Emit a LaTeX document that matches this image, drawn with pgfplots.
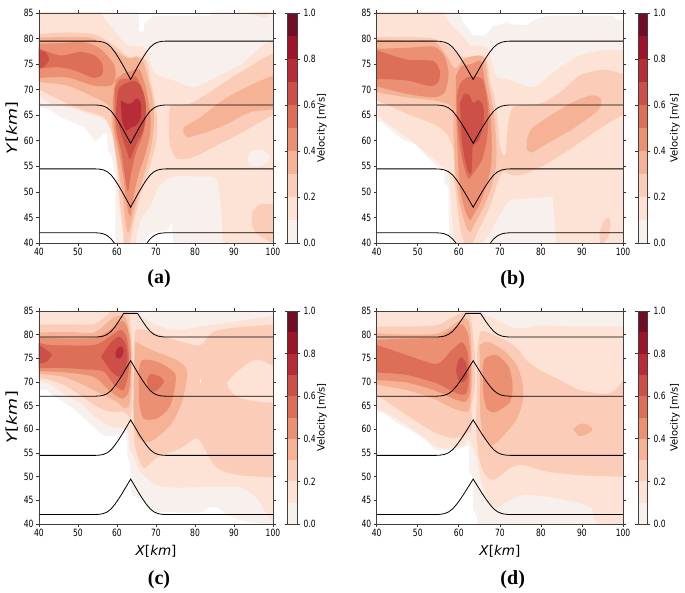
\documentclass[border=0pt]{standalone}
\usepackage{pgfplots}
\usepackage{pgfplotstable}
\usepackage{fontspec}
\pgfplotsset{compat=1.18}
\setmainfont{DejaVu Sans}
\newfontfamily\tickf[FakeStretch=0.76]{DejaVu Sans}
\newfontfamily\labxf{DejaVu Sans}
\newfontfamily\labyf[FakeStretch=1.25]{DejaVu Sans}
\newfontfamily\capf{Liberation Serif}
\definecolor{c0}{HTML}{F8F0EC}
\definecolor{c1}{HTML}{FDE3D6}
\definecolor{c2}{HTML}{FBCDB8}
\definecolor{c3}{HTML}{F5B295}
\definecolor{c4}{HTML}{EC9073}
\definecolor{c5}{HTML}{DD6F59}
\definecolor{c6}{HTML}{CC4F48}
\definecolor{c7}{HTML}{B82C37}
\definecolor{c8}{HTML}{9D1428}
\definecolor{c9}{HTML}{710B26}
\pgfplotstableread{
x y1 y2 y3 y4
40 79.5 67 54.5 42
54.5 79.5 67 54.5 42
55.5 79.45 66.95 54.45 41.95
56.5 79.3 66.8 54.3 41.8
57.5 78.95 66.45 53.95 41.45
58.5 78.3 65.8 53.3 40.8
59.5 77.3 64.8 52.3 39.8
60.5 76.1 63.6 51.1 38.6
61.5 74.8 62.3 49.8 37.3
62.5 73.4 60.9 48.4 35.9
63.5 72 59.5 47 34.5
64.5 73.4 60.9 48.4 35.9
65.5 74.8 62.3 49.8 37.3
66.5 76.1 63.6 51.1 38.6
67.5 77.3 64.8 52.3 39.8
68.5 78.3 65.8 53.3 40.8
69.5 78.95 66.45 53.95 41.45
70.5 79.3 66.8 54.3 41.8
71.5 79.45 66.95 54.45 41.95
72.5 79.5 67 54.5 42
100 79.5 67 54.5 42
}\dipcurves
\pgfplotstableread{
x y1 y2 y3 y4
40 79.5 67 54.5 42
54.5 79.5 67 54.5 42
55.5 79.55 67.05 54.55 42.05
56.5 79.7 67.2 54.7 42.2
57.5 80.05 67.55 55.05 42.55
58.5 80.7 68.2 55.7 43.2
59.5 81.7 69.2 56.7 44.2
60.5 82.9 70.4 57.9 45.4
61.5 84.2 71.7 59.2 46.7
61.7 84.5 72 59.5 47
62.5 84.5 73.1 60.6 48.1
63.5 84.5 74.5 62 49.5
64.5 84.5 73.1 60.6 48.1
65.3 84.5 72 59.5 47
65.5 84.2 71.7 59.2 46.7
66.5 82.9 70.4 57.9 45.4
67.5 81.7 69.2 56.7 44.2
68.5 80.7 68.2 55.7 43.2
69.5 80.05 67.55 55.05 42.55
70.5 79.7 67.2 54.7 42.2
71.5 79.55 67.05 54.55 42.05
72.5 79.5 67 54.5 42
100 79.5 67 54.5 42
}\humpcurves
\pgfplotsset{
  tk/.style={
    tick label style={font=\tickf\fontsize{10}{12}\selectfont},
    /pgf/number format/assume math mode=true,
    tick style={black!80,line width=0.7pt},
    tick align=outside, major tick length=3pt,
    axis line style={black!75,line width=0.8pt},
  },
  panel/.style={tk, scale only axis, anchor=south west, axis on top,
    xmin=40,xmax=100,ymin=40,ymax=85,
    xtick={40,50,...,100}, ytick={40,45,...,85},
    xticklabel style={yshift=1pt}, yticklabel style={xshift=1pt},
    every axis x label/.style={at={(axis description cs:0.5,-0.13)},anchor=center,font=\labxf\fontsize{13.5}{15}\selectfont},
    every axis y label/.style={at={(axis description cs:-0.113,0.5)},rotate=90,anchor=center,font=\labyf\fontsize{14}{16}\selectfont},
  },
  cbar/.style={tk, scale only axis, anchor=south west, axis on top,
    xmin=0,xmax=1,ymin=0,ymax=1,xtick=\empty,
    ytick={0,0.2,0.4,0.6,0.8,1.0}, yticklabel pos=right,
    /pgf/number format/fixed,/pgf/number format/fixed zerofill,/pgf/number format/precision=1,
    every axis y label/.style={at={(axis description cs:#1,0.5)},rotate=90,anchor=center,font=\labxf\fontsize{10}{12}\selectfont},
    ylabel={Velocity [m/s]},
  },
}
\newcommand\lv[2]{\addplot[draw=none,fill=#1,smooth,tension=0.45] coordinates {#2} --cycle;}
\newcommand\wh[1]{\addplot[draw=none,fill=white] coordinates {#1} --cycle;}
\newcommand\bgfill{\addplot[draw=none,fill=c0] coordinates {(38,38)(102,38)(102,87)(38,87)} --cycle;}
\newcommand\curves[1]{%
  \addplot[black,line width=0.8pt] table[x=x,y=y1] {#1};
  \addplot[black,line width=0.8pt] table[x=x,y=y2] {#1};
  \addplot[black,line width=0.8pt] table[x=x,y=y3] {#1};
  \addplot[black,line width=0.8pt] table[x=x,y=y4] {#1};
}
\newcommand\bands{%
  \addplot[draw=none,fill=c0] coordinates {(0,0)(1,0)(1,.1)(0,.1)} --cycle;
  \addplot[draw=none,fill=c1] coordinates {(0,.1)(1,.1)(1,.2)(0,.2)} --cycle;
  \addplot[draw=none,fill=c2] coordinates {(0,.2)(1,.2)(1,.3)(0,.3)} --cycle;
  \addplot[draw=none,fill=c3] coordinates {(0,.3)(1,.3)(1,.4)(0,.4)} --cycle;
  \addplot[draw=none,fill=c4] coordinates {(0,.4)(1,.4)(1,.5)(0,.5)} --cycle;
  \addplot[draw=none,fill=c5] coordinates {(0,.5)(1,.5)(1,.6)(0,.6)} --cycle;
  \addplot[draw=none,fill=c6] coordinates {(0,.6)(1,.6)(1,.7)(0,.7)} --cycle;
  \addplot[draw=none,fill=c7] coordinates {(0,.7)(1,.7)(1,.8)(0,.8)} --cycle;
  \addplot[draw=none,fill=c8] coordinates {(0,.8)(1,.8)(1,.9)(0,.9)} --cycle;
  \addplot[draw=none,fill=c9] coordinates {(0,.9)(1,.9)(1,1)(0,1)} --cycle;
}
\begin{document}
\begin{tikzpicture}
\path[use as bounding box] (0pt,0pt) rectangle (685pt,592pt);

%% ---------- (a)
\begin{axis}[panel, at={(39pt,349pt)}, width=234pt, height=230pt, ylabel={\textit{Y}[\textit{km}]}]
\bgfill
\wh{(38,38)(38,67.2)(43,66)(45.5,64.6)(51.5,62.7)(54.5,59.8)(56.6,61.4)(57.5,61.4)(57.6,58.1)(58.7,56.8)(59.6,52.3)(59.6,38)}
\wh{(65.6,86)(65.6,83)(65.7,81.5)(66.8,81.3)(67,83)(69.5,84.5)(84,84.5)(84,86)}
\wh{(67,38)(67.5,41)(69,42)(73,42.5)(74,44)(74.6,38)}
\lv{c1}{(38,87)(55.7,87)(55.7,85)(59.6,81.3)(62.6,78.7)(66.8,78.3)(68.1,76.4)(69.8,73.1)(74.5,71.8)(79.7,70.5)(85.7,72.5)(91.6,74.8)(102,78.2)(102,38)(88.5,38)(86.8,45.8)(85.5,52.5)(81.4,53)(74.5,53)(72,52)(70.3,50.5)(68.6,47.2)(66.4,45)(65,41.5)(64.7,38)(61.7,38)(61.5,41.5)(60.4,48.3)(60,54.9)(59.2,60)(57.4,63.7)(54,65)(47.2,66.6)(42.9,67.3)(40,68.9)(38,69.5)}
\lv{c1}{(94.5,85.4)(96,84.4)(98.5,84.2)(99,85.4)}
\lv{c0}{(93.4,56.5)(94.5,57.9)(97,58.3)(99,57.3)(98.8,56)(96.5,55)(94,55.1)}
\lv{c2}{(38,81)(40,80.9)(47.2,81.2)(54,80.9)(57.4,79.6)(60,78.3)(63,76.3)(65,76.6)(67.6,75.6)(68.6,71.7)(69.7,67.9)(70.3,64)(70.1,60)(68.4,54.9)(66.7,51)(64.6,45.1)(63.5,41)(63,38)(62,38)(61.7,41.8)(60.7,48.3)(60,54.9)(58.7,61.4)(56.6,64.6)(51.5,65.9)(45.5,67.9)(40,70)(38,70.5)}
\lv{c2}{(73.7,67)(78.8,67.3)(85.7,70.5)(91.6,73.4)(102,77)(102,64)(100,65)(91.6,61.4)(84.8,58.8)(79.7,56.8)(75.4,56.5)(73.7,58.8)(73.3,61.4)(73.3,65.3)}
\lv{c2}{(102,47.4)(96.8,47.6)(94.6,45.7)(95.1,42.5)(98.5,40.5)(102,39.5)}
\lv{c3}{(77.1,61.4)(77.3,62.7)(81.4,64.6)(86.5,67.6)(91.6,69.9)(100,72.8)(102,73)(102,66.8)(94.2,65.6)(88.2,63.3)(83.1,61.7)(78,60.6)}
\lv{c3}{(38,80.3)(40,80.2)(47.2,80.3)(53,80.2)(56.6,79)(59.6,77.6)(62.6,76.2)(65.2,76.3)(66.8,75.3)(68.1,71.7)(69.2,67.9)(69.5,64)(68.9,59.4)(67.7,55.5)(66,51)(64.7,47.2)(63.5,43.3)(62.9,42)(62.3,43.3)(61.6,48.4)(60.3,54.9)(59.4,59.4)(58.6,63.7)(58.3,66.6)(54,68.6)(47.2,70.8)(40,71.5)(38,71.5)}
\lv{c4}{(38,79)(40,79)(45.5,79.1)(51.5,79.3)(55.7,78)(59.2,75)(59.6,72.5)(58.5,70.8)(54,70.8)(47.2,72.4)(40,72.3)(38,72.3)}
\lv{c4}{(59.6,71.9)(61.7,73.2)(63.5,73.6)(65.8,73.9)(67.5,70)(68.6,64.8)(68.4,61)(67.1,57)(65.4,53.1)(64.1,48.6)(63.5,45.3)(62.7,46.7)(61.7,52.5)(60.5,57.8)(59.3,62.3)(58.9,67.9)}
\lv{c5}{(38,78.1)(40,78)(45.5,76.7)(50.7,77.4)(54.5,76.6)(56.2,75)(56.2,73)(54,72.3)(49,73.8)(44.7,74.4)(40,74.1)(38,74)}
\lv{c5}{(59.4,70.2)(60.8,72)(63.5,72.2)(64.9,72.5)(67,69)(67.5,65)(66.6,61.1)(64.9,57.8)(63.5,53.2)(62.8,50)(62,53.2)(61.1,57.8)(59.9,61.7)(59.4,66.2)}
\lv{c6}{(38,77.8)(40,77.7)(41.6,77.4)(42.6,76)(41.6,74.7)(40,74.1)(38,74)}
\lv{c6}{(60,68.1)(60.7,70.5)(64,71.7)(66.1,70.7)(67.4,66.8)(66.8,62.2)(64.9,59.3)(63.4,56.4)(62.8,57.4)(61.9,59.4)(60.8,62)(59.7,65.3)}
\lv{c7}{(60.9,67.9)(62.8,67.2)(64,67.5)(64.9,68.3)(66.1,67.5)(66.1,64.6)(64.9,63)(63.6,62.6)(62.3,62)(61.3,64)}
\curves{\dipcurves}
\end{axis}
\begin{axis}[cbar=3.63, at={(287.5pt,349pt)}, width=9.5pt, height=230pt]
\bands
\end{axis}

%% ---------- (b)
\begin{axis}[panel, at={(376.7pt,349pt)}, width=246.3pt, height=230pt]
\bgfill
\wh{(38,38)(38,63.7)(41.2,63.7)(44,61.7)(46.5,60.1)(49.3,59.4)(52.2,56.8)(55.4,54.5)(56.4,54.2)(56.4,52)(57.5,50.6)(57.6,38)}
\wh{(60.5,87)(60.5,85)(60.7,83.6)(63.5,80.6)(66.4,80.6)(68.4,82.6)(70.9,82.9)(71.7,83.4)(72.5,82.8)(76.5,82.6)(77.8,83.4)(81.4,84.5)(97.6,84.5)(98.9,83.6)(102,83.6)(102,87)}
\lv{c1}{(38,87)(56,87)(56,85)(59,82)(62,79.5)(62.7,78.7)(66.8,78.3)(68,75.7)(69.2,72.5)(72,72)(78.2,70.5)(83,73.4)(89.5,76.7)(95.2,77.7)(100,77.7)(102,77.7)(102,38)(83.7,38)(83.7,40)(82.9,48.3)(82.7,49)(76.5,48.7)(72.5,48.3)(70.9,46.7)(68.8,43.8)(67.2,41.5)(66,40)(66,38)(59,38)(59,40)(58.3,45.1)(57.9,51)(57,54.2)(52.2,57.5)(47.3,60.7)(41.6,64)(40,65)(38,66)}
\lv{c2}{(38,80.3)(40,80.3)(47.3,80.3)(53.8,80)(57.9,78.3)(61.1,76.4)(65.2,76.7)(66.8,75.7)(67.6,71.8)(68.8,67.9)(69.6,62.7)(69.9,59.4)(70.9,57)(71.5,58)(71.8,62)(73.3,66.6)(79.8,67.3)(84.7,69.5)(89.5,72.8)(95.2,73.9)(100,73.1)(102,73)(102,64)(100,65)(94.4,62.4)(87.9,58.8)(81.4,55.5)(76.5,53.6)(73.3,53.2)(70.9,53.9)(69.6,52.3)(68.4,49)(66.8,45.7)(64.8,42.5)(63.5,40)(63.5,38)(61.3,38)(61.3,40)(60.3,43.1)(59.5,48.3)(58.8,52.9)(58.7,58.1)(57,61.4)(53.8,63.3)(47.3,65.3)(40,67.9)(38,68.2)}
\lv{c2}{(94.5,39.5)(94.3,41.8)(95.2,44.1)(96.4,45)(97,43.8)(96.4,41.2)(95.2,40)(95,39.5)}
\lv{c3}{(76.5,60)(77.8,62.4)(83,65.3)(87.9,67.6)(92.4,68.9)(94.6,68.2)(94,66)(87.9,62.4)(81.4,59.4)(77.8,57.7)(76.5,58.4)}
\lv{c3}{(38,79.8)(40,79.8)(47.3,79.6)(53.8,79.5)(57,76.7)(59.1,74.1)(61.5,76.1)(66,76.4)(67.2,71.2)(68.3,66.6)(69.1,60.2)(69.1,55.5)(68,51)(66,47)(63.9,43.8)(62.7,42.1)(61.5,43.8)(59.9,49)(59.1,54.9)(58.7,61.4)(58.3,66.6)(53.8,67.9)(47.3,68.5)(40,69.5)(38,69.7)}
\lv{c4}{(38,78.2)(40,78)(47.3,78.2)(54,78.4)(56.6,76.4)(57.5,73.1)(56.6,69.5)(53.8,68.5)(47.3,69.2)(40,70.6)(38,70.8)}
\lv{c5}{(38,77.8)(40,77.7)(47.3,75.9)(53.8,75.6)(55.4,73.5)(55,71.5)(53,70.7)(47.3,71.8)(40,72.1)(38,72.1)}
\lv{c4}{(59.3,72.7)(60.7,74.6)(63,75)(65.4,75.5)(66.4,71.5)(67.5,66.6)(68,60.7)(67.9,55.5)(66.8,51.6)(65.2,47.8)(63.9,46)(62.8,44.5)(61.7,46)(60.4,50)(59.9,55)(59.5,61.4)(59.3,67)}
\lv{c5}{(59.5,68.6)(60.3,71.2)(62.3,72.5)(65.6,72.2)(66.8,68.6)(67.2,64.6)(66.8,60)(65.6,56.2)(63.5,53.6)(62.3,52.6)(61.1,55.5)(60.3,58.8)(59.7,63.3)}
\lv{c6}{(60.3,67.3)(61.3,69.2)(62.6,68.9)(63.5,67.4)(64.8,68)(66,66.6)(66,63.3)(64.8,60)(63.4,58.8)(63.1,53.9)(62.3,53.9)(61.5,56.2)(60.7,60.1)}
\curves{\dipcurves}
\end{axis}
\begin{axis}[cbar=4.2, at={(638.3pt,349pt)}, width=8.7pt, height=230pt]
\bands
\end{axis}

%% ---------- (c)
\begin{axis}[panel, at={(39pt,68pt)}, width=234pt, height=213pt, xlabel={\textit{X}[\textit{km}]}, ylabel={\textit{Y}[\textit{km}]}]
\bgfill
\wh{(38,38)(38,68.3)(42,68.3)(42.9,67.5)(45,66.5)(48.9,64.3)(52.3,61.8)(54.9,59.7)(56.6,58.6)(59.2,58.6)(62.1,59.3)(62.6,57.5)(62.7,54)(63.4,52.5)(63.6,46.1)(66,45.4)(68.1,43.3)(70.3,42.6)(80.5,42.3)(82.2,42.6)(83.5,43.5)(85.7,43.5)(88.2,41.9)(92.5,40.5)(97.6,40)(97.6,38)}
\lv{c1}{(38,87)(64.7,87)(64.7,84.8)(67.7,83.1)(71.1,81.7)(75.4,81)(81.4,81.7)(89.9,82.7)(100,84)(102,84.2)(102,39.9)(100,40.5)(98.5,41.9)(95.9,45.4)(91.6,47.7)(84.8,47.9)(75.4,47.7)(70.3,48.2)(66,51)(64.1,54.6)(63.4,55.3)(63,58.8)(62.1,60.2)(58.3,60.6)(54.9,62.3)(50.6,65.5)(46.3,67.6)(42.5,69.7)(40,70.2)(38,70.2)}
\lv{c2}{(38,82.2)(47.2,82.2)(54,82.2)(57.4,84.1)(58.3,84.8)(61,85.2)(63,84.5)(63.7,80)(64,75)(64,70)(63.8,65)(63.4,62.2)(63,62.7)(61.7,63.7)(58.3,63.7)(54.9,64.8)(50.6,67.2)(46.3,69.4)(42.5,70.5)(40,70.8)(38,70.8)}
\lv{c2}{(64.7,81)(66.8,81.1)(71.8,79.7)(77.9,78.2)(81.4,77.8)(84.8,80.7)(91.6,81.6)(100,82.1)(102,82.2)(102,49.7)(100,49.8)(91.6,50.3)(86.5,51.4)(84,53.5)(81.8,57)(80.5,58.1)(78.8,57.4)(76.3,56)(70.3,54)(66.8,51.8)(64.7,56)(64.3,60.2)(64.3,70)(64.3,78)}
\lv{c1}{(88.2,69.9)(89.9,71.5)(94.2,74.3)(96.8,74.6)(100,73.4)(102,73.4)(102,65.5)(100,65.6)(95,66)(90.8,66.9)(88.6,68.7)}
\lv{c3}{(38,80.4)(47.2,80.6)(54,80.4)(57.4,82.5)(59.6,83.8)(62.1,83.7)(63.4,79.7)(63.7,75)(63.5,68)(63,64.8)(61.7,64.6)(60,65.8)(55.7,67.6)(50.6,69.7)(46.3,71.1)(42,71.6)(40,71.8)(38,71.8)}
\lv{c4}{(38,79.4)(40,79.4)(47.2,79.2)(54.5,79.4)(58.3,81)(61.3,82.9)(62.7,81.3)(63.4,77.8)(63.6,72.9)(63,67.9)(61.3,66.5)(58.3,68)(54,71.1)(47.2,72)(40,72.3)(38,72.3)}
\lv{c5}{(38,78.3)(40,78.3)(42.9,77.8)(54,77.8)(57.4,79.2)(60.9,81)(62.4,79.6)(63,76.4)(63,72.2)(61.7,68.3)(59.2,69.4)(56.6,72.2)(51.5,72.7)(44.6,73)(40,72.9)(38,72.9)}
\lv{c6}{(38,77.8)(40,77.8)(42,76.7)(43.3,75.8)(42,74.3)(40,73.9)(38,73.9)}
\lv{c6}{(55.9,75.3)(57.9,77.8)(60.4,79.6)(62.1,78.2)(62.7,75.3)(62.1,72.5)(60.4,71.1)(58.3,72.5)}
\lv{c7}{(59.6,76)(60.2,77.2)(61.3,77.5)(61.7,76.4)(60.9,75)(59.8,75.1)}
\lv{c3}{(64.7,78.5)(69,76.7)(75.4,74.6)(78,72.2)(76.7,65.8)(73.7,60.9)(68.6,57.4)(65.6,58.1)(64.3,62.3)(64.3,70.8)}
\lv{c4}{(65.6,72.2)(66.4,74.6)(70.3,74.3)(75,71.5)(73.7,65.1)(70.3,62.3)(66.8,62.3)(65.6,65.8)}
\lv{c5}{(67.7,70.4)(68.6,71.7)(71.1,71.1)(72,69.9)(69.8,68)(68,68.7)}
\wh{(81.4,69.8)(81.6,69.8)(81.6,70.6)(81.4,70.6)}
\curves{\humpcurves}
\end{axis}
\begin{axis}[cbar=3.63, at={(287.5pt,68pt)}, width=9.5pt, height=213pt]
\bands
\end{axis}

%% ---------- (d)
\begin{axis}[panel, at={(376.7pt,68pt)}, width=246.3pt, height=213pt, xlabel={\textit{X}[\textit{km}]}]
\bgfill
\wh{(38,38)(38,63.6)(41.6,63.6)(44.9,61.3)(48.1,59.9)(51.4,58.1)(54.2,55.6)(58.7,55.5)(61.5,56.3)(62.5,56.5)(62.5,51)(63.4,50)(63.4,43.3)(64.4,41.5)(64.4,38)}
\lv{c1}{(38,87)(65.6,87)(65.6,84.7)(68.4,83.4)(74.1,81.3)(79.8,81.9)(87.9,81.7)(100,81.7)(102,81.7)(102,38)(94,38)(94,40)(92.8,41.2)(92.4,43.3)(89.5,44.4)(81.4,45.8)(75.7,46.1)(71.7,44.7)(68.8,43.3)(66.5,46)(65,51)(64,55.3)(63.4,56.2)(62.3,58.1)(61.5,57)(58.7,56)(54.6,56.3)(49.7,59.5)(44.9,62.2)(40,64.4)(38,65)}
\lv{c2}{(65.2,80.6)(66.8,80.6)(73.3,77.8)(76.5,74.6)(79.8,72.5)(84.7,70.4)(89.5,68.3)(95.2,67.5)(98.1,68.3)(100,70.4)(102,70.6)(102,49.9)(100,50)(89.5,50.3)(81.4,51.1)(75.3,52.5)(72.5,51.8)(68.4,49.3)(66,51)(64.8,54.6)(64.2,60.2)(64.4,67.2)(64.5,77)}
\lv{c2}{(38,81.7)(40,81.7)(47.3,81.7)(54.6,82)(57.9,83.4)(61.1,84.7)(62.7,84.1)(63.5,79.9)(64,74.3)(63.8,67.9)(63.1,65.1)(63.1,60.2)(61.9,59.1)(58.7,58.1)(53.8,59.5)(47.3,63)(40,67.2)(38,67.5)}
\lv{c3}{(38,80.3)(40,80.3)(47.3,80)(54.6,80.2)(57.9,81.6)(60.7,83.3)(62.3,83)(63,79)(63.3,72)(63,67)(62.5,64)(61.9,63.7)(58.7,64.4)(53.8,66.5)(47.3,68.3)(40,69.4)(38,69.4)}
\lv{c4}{(38,78.9)(40,78.9)(47.3,79.2)(54.6,79.4)(57.9,80.8)(60.7,82.2)(62.3,79.9)(62.9,74.3)(62.7,67.9)(61.5,65.8)(58.7,66.5)(53.8,68.3)(47.3,69.9)(40,70.4)(38,70.4)}
\lv{c5}{(38,77.8)(40,77.8)(47.3,75.7)(54.6,73.8)(57.9,76.4)(60.7,78.4)(62.1,76.4)(62.5,71.5)(61.8,67.6)(59.5,67.6)(54.6,69.7)(47.3,71.5)(40,72)(38,72)}
\lv{c6}{(59.3,72.5)(59.9,74.6)(60.7,75.3)(61.8,73.9)(62,71.1)(61,70)(59.9,70.4)}
\lv{c3}{(65,77.8)(67.2,78.5)(70.9,76.7)(74.1,73.6)(75.6,69.4)(75.6,65.8)(73.7,61.6)(68.4,56.7)(66,58.8)(65.2,63.7)(65.2,72.2)}
\lv{c4}{(65.8,72.9)(66.4,75)(69.2,75.7)(72.1,73.3)(73.1,69.4)(72.5,65.8)(68.8,63.6)(66.8,64.4)(66,67.2)}
\lv{c3}{(87.9,59.9)(89.1,61)(90.8,61.2)(92.6,60)(90.8,58.8)(89.1,58.6)}
\curves{\humpcurves}
\end{axis}
\begin{axis}[cbar=4.2, at={(638.3pt,68pt)}, width=8.7pt, height=213pt]
\bands
\end{axis}

\node[font=\capf\bfseries\fontsize{20}{22}\selectfont] at (159pt,313pt) {(a)};
\node[font=\capf\bfseries\fontsize{20}{22}\selectfont] at (512.7pt,312pt) {(b)};
\node[font=\capf\bfseries\fontsize{20}{22}\selectfont] at (159pt,12pt) {(c)};
\node[font=\capf\bfseries\fontsize{20}{22}\selectfont] at (512.7pt,12pt) {(d)};
\end{tikzpicture}
\end{document}
